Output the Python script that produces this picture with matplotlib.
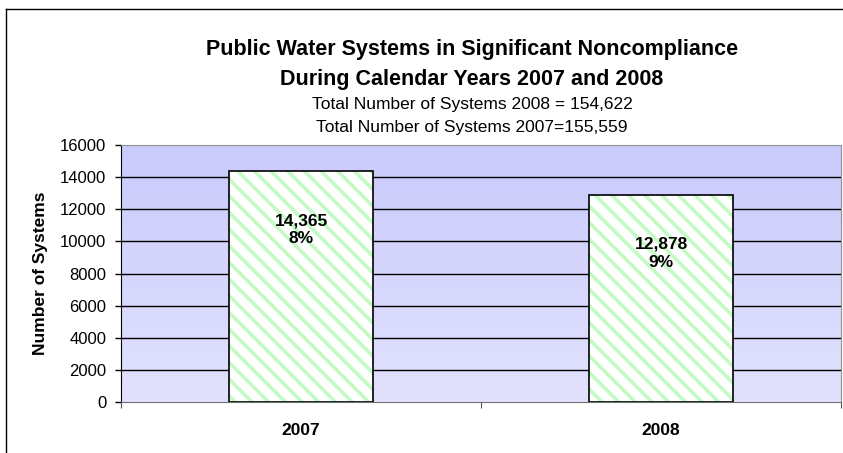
import numpy as np
import matplotlib
matplotlib.use("Agg")
import matplotlib.pyplot as plt
from matplotlib.colors import LinearSegmentedColormap
from matplotlib.lines import Line2D

# chart data
years = ["2007", "2008"]
systems = [14365, 12878]
percents = ["8%", "9%"]
title_lines = ["Public Water Systems in Significant Noncompliance",
               "During Calendar Years 2007 and 2008"]
subtitle_lines = ["Total Number of Systems 2008 = 154,622",
                  "Total Number of Systems 2007=155,559"]

plt.rcParams['font.family'] = ['Liberation Sans', 'DejaVu Sans']
plt.rcParams['hatch.linewidth'] = 2.6

W, H = 843, 453
fig = plt.figure(figsize=(W / 100, H / 100), dpi=100)
ax = fig.add_axes([121 / W, 51 / H, 720 / W, 257 / H])

# gradient plot area background (darker at the top)
grad = np.linspace(0, 1, 256).reshape(-1, 1)
cmap = LinearSegmentedColormap.from_list("bg", ["#CACAFC", "#E2E2FE"])
ax.imshow(grad, cmap=cmap, aspect='auto', extent=[-0.5, 1.5, 0, 16000],
          origin='upper', zorder=0, interpolation='bicubic')

x = np.arange(len(years))
ax.set_xlim(-0.5, 1.5)
ax.set_ylim(0, 16000)

# gridlines
for v in range(2000, 16000, 2000):
    ax.axhline(v, color='black', lw=1.0, zorder=1)

# hatched bars: hatch layer, then black outline
ax.bar(x, systems, width=0.4, color='white', edgecolor='#C4FAC4',
       hatch='\\\\', linewidth=0, zorder=2)
ax.bar(x, systems, width=0.4, fill=False, edgecolor='black',
       linewidth=1.2, zorder=3)

for xi, v, p in zip(x, systems, percents):
    ax.annotate(f"{v:,}\n{p}", xy=(xi, v), xytext=(0, -42),
                textcoords='offset points', ha='center', va='center',
                fontsize=12.5, fontweight='bold', linespacing=1.25, zorder=4)

# axes styling
ax.set_yticks(range(0, 16001, 2000))
ax.tick_params(axis='y', labelsize=12, length=4.5, pad=6, direction='out', width=1)
ax.set_xticks([-0.5, 0.5, 1.5])
ax.set_xticklabels([])
ax.tick_params(axis='x', length=4.5, direction='out', color='#555555')
ax.set_xticks(x, minor=True)
ax.set_xticklabels(years, minor=True, fontsize=12.5, fontweight='bold')
ax.tick_params(axis='x', which='minor', length=0, pad=15)

ax.spines['left'].set_color('black')
ax.spines['bottom'].set_color('#707070')
ax.spines['top'].set_color('#909090')
ax.spines['right'].set_color('#909090')
ax.set_ylabel("Number of Systems", fontsize=12.5, fontweight='bold', labelpad=9)

# titles, one text per line
for txt, yc in zip(title_lines, [50, 79]):
    fig.text(472 / W, 1 - yc / H, txt, ha='center', va='center',
             fontsize=15.5, fontweight='bold')
for txt, yc in zip(subtitle_lines, [104, 127.5]):
    fig.text(472 / W, 1 - yc / H, txt, ha='center', va='center', fontsize=12.5)

# outer chart border (left and top visible)
fig.add_artist(Line2D([6 / W, 6 / W], [0, 1 - 9 / H], transform=fig.transFigure,
                      color='black', lw=1))
fig.add_artist(Line2D([6 / W, 1], [1 - 9 / H, 1 - 9 / H], transform=fig.transFigure,
                      color='black', lw=1))

fig.savefig("out.png", dpi=100)
